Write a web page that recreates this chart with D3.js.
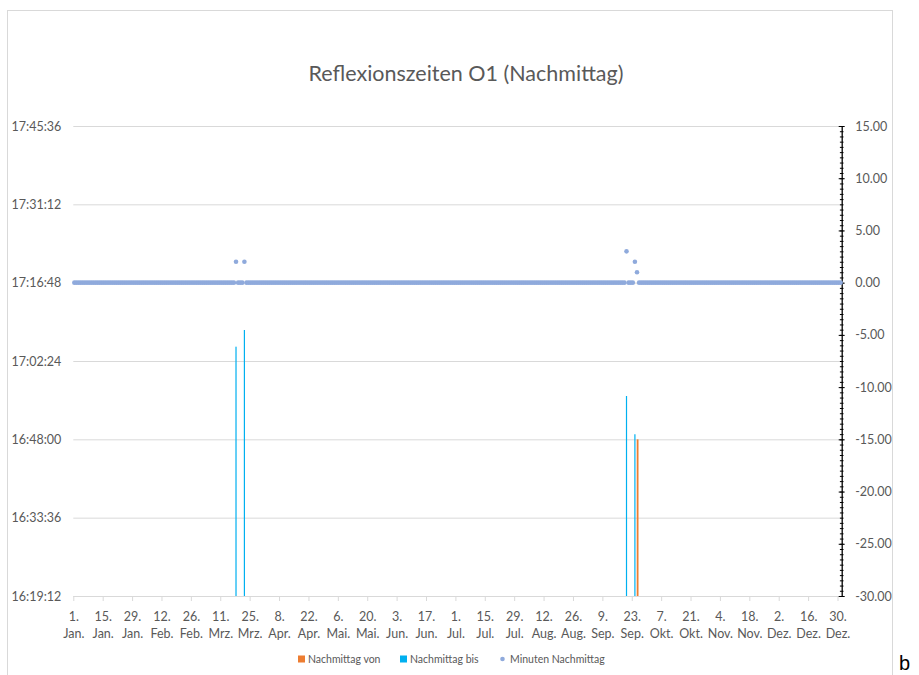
<!DOCTYPE html>
<html>
<head>
<meta charset="utf-8">
<script src="https://cdn.jsdelivr.net/npm/d3@7"></script>
<style>
  html, body { margin: 0; padding: 0; background: #fff; }
  svg { display: block; font-family: "Lato", "Open Sans", sans-serif; }
</style>
</head>
<body>
<svg id="chart" width="919" height="675"></svg>
<script>
// ---------- DATA ----------
const chartTitle = "Reflexionszeiten O1 (Nachmittag)";
const seriesNames = ["Nachmittag von", "Nachmittag bis", "Minuten Nachmittag"];
const seriesColors = ["#ED7D31", "#00B0F0", "#8FAADC"];

// x axis: one category per day of 2020
const yearStart = "2020-01-01";
const yearEnd = "2021-01-01";
const tickDates = ["2020-01-01","2020-01-15","2020-01-29","2020-02-12","2020-02-26","2020-03-11","2020-03-25",
  "2020-04-08","2020-04-22","2020-05-06","2020-05-20","2020-06-03","2020-06-17","2020-07-01","2020-07-15",
  "2020-07-29","2020-08-12","2020-08-26","2020-09-09","2020-09-23","2020-10-07","2020-10-21","2020-11-04",
  "2020-11-18","2020-12-02","2020-12-16","2020-12-30"];
const tickDayLabels = ["1.","15.","29.","12.","26.","11.","25.","8.","22.","6.","20.","3.","17.","1.","15.",
  "29.","12.","26.","9.","23.","7.","21.","4.","18.","2.","16.","30."];
const tickMonthLabels = ["Jan.","Jan.","Jan.","Feb.","Feb.","Mrz.","Mrz.","Apr.","Apr.","Mai.","Mai.","Jun.","Jun.","Jul.","Jul.",
  "Jul.","Aug.","Aug.","Sep.","Sep.","Okt.","Okt.","Nov.","Nov.","Dez.","Dez.","Dez."];

// left axis (time of day)
const leftTicks = ["16:19:12","16:33:36","16:48:00","17:02:24","17:16:48","17:31:12","17:45:36"];
// right axis (minutes)
const rightTicks = [-30, -25, -20, -15, -10, -5, 0, 5, 10, 15];
const rightMinorStep = 0.5;

// "Nachmittag von" bars
const vonDates = ["2020-09-25"];
const vonTimes = ["16:48:00"];
// "Nachmittag bis" bars
const bisDates = ["2020-03-18", "2020-03-22", "2020-09-20", "2020-09-24"];
const bisTimes = ["17:05:02", "17:08:06", "16:55:58", "16:48:56"];
// "Minuten Nachmittag": every day is 0 except these days
const minuteDates = ["2020-03-18", "2020-03-22", "2020-09-20", "2020-09-24", "2020-09-25"];
const minuteValues = [2, 2, 3, 2, 1];
const minuteDefault = 0;

// ---------- HELPERS ----------
const parseDate = d3.timeParse("%Y-%m-%d");
const toSec = s => { const [h, m, sec] = s.split(":").map(Number); return h * 3600 + m * 60 + sec; };
const fmtSec = v => {
  const h = Math.floor(v / 3600), m = Math.floor((v % 3600) / 60), s = Math.round(v % 60);
  return h + ":" + String(m).padStart(2, "0") + ":" + String(s).padStart(2, "0");
};

// ---------- LAYOUT ----------
const svg = d3.select("#chart");
const plot = { left: 73.3, right: 841.7, top: 126, bottom: 596 };
const textColor = "#595959";
const gridColor = "#d9d9d9";

// chart frame
svg.append("rect").attr("x", 7.5).attr("y", 10.5).attr("width", 885).attr("height", 700)
  .attr("fill", "none").attr("stroke", gridColor).attr("stroke-width", 1);

// scales
const x = d3.scaleTime().domain([parseDate(yearStart), parseDate(yearEnd)]).range([plot.left, plot.right]);
const dayW = x(parseDate("2020-01-02")) - x(parseDate("2020-01-01"));
const xc = d => x(parseDate(d)) + dayW / 2;
const leftSec = leftTicks.map(toSec);
const yL = d3.scaleLinear().domain([leftSec[0], leftSec[leftSec.length - 1]]).range([plot.bottom, plot.top]);
const yR = d3.scaleLinear().domain([rightTicks[0], rightTicks[rightTicks.length - 1]]).range([plot.bottom, plot.top]);

// title
svg.append("text").attr("x", 466).attr("y", 81).attr("text-anchor", "middle")
  .attr("font-size", 21.5).attr("fill", textColor).text(chartTitle);

// left axis with gridlines
const gL = svg.append("g").attr("transform", `translate(${plot.left},0)`)
  .call(d3.axisLeft(yL).tickValues(leftSec).tickFormat(fmtSec)
    .tickSize(-(plot.right - plot.left)).tickPadding(12));
gL.select(".domain").remove();
gL.selectAll(".tick line").attr("stroke", gridColor);
gL.selectAll(".tick text").attr("fill", textColor).attr("font-size", 12.5).attr("font-family", "Lato");

// x axis
const gX = svg.append("g").attr("transform", `translate(0,${plot.bottom})`)
  .call(d3.axisBottom(x).tickValues(tickDates.map(parseDate)).tickSizeInner(5).tickSizeOuter(0).tickFormat(""));
gX.select(".domain").attr("stroke", gridColor);
gX.selectAll(".tick line").attr("stroke", gridColor);
gX.selectAll(".tick").each(function (d, i) {
  const t = d3.select(this).append("text").attr("fill", textColor).attr("font-size", 12.5)
    .attr("font-family", "Lato").attr("text-anchor", "middle");
  t.append("tspan").attr("x", 0).attr("y", 25).text(tickDayLabels[i]);
  t.append("tspan").attr("x", 0).attr("y", 42).text(tickMonthLabels[i]);
});

// bars: von (orange) then bis (blue)
svg.append("g").selectAll("rect").data(vonDates.map((d, i) => ({ d, v: toSec(vonTimes[i]) })))
  .join("rect")
  .attr("x", p => xc(p.d) - 0.3).attr("width", 1.8)
  .attr("y", p => yL(p.v)).attr("height", p => plot.bottom - yL(p.v))
  .attr("fill", seriesColors[0]);
svg.append("g").selectAll("rect").data(bisDates.map((d, i) => ({ d, v: toSec(bisTimes[i]) })))
  .join("rect")
  .attr("x", p => xc(p.d) - 0.6).attr("width", 1.2)
  .attr("y", p => yL(p.v)).attr("height", p => plot.bottom - yL(p.v))
  .attr("fill", seriesColors[1]);

// right axis
const gRMinor = svg.append("g").attr("transform", `translate(${plot.right},0)`)
  .call(d3.axisRight(yR).tickValues(d3.range(rightTicks[0], rightTicks[rightTicks.length - 1] + 0.001, rightMinorStep))
    .tickSize(1.8).tickFormat(""));
gRMinor.select(".domain").remove();
gRMinor.selectAll(".tick line").attr("x1", -1.8).attr("stroke", "#000");
const gR = svg.append("g").attr("transform", `translate(${plot.right},0)`)
  .call(d3.axisRight(yR).tickValues(rightTicks).tickSizeInner(3).tickSizeOuter(0)
    .tickPadding(10.5).tickFormat(v => v.toFixed(2)));
gR.select(".domain").attr("stroke", "#000").attr("stroke-width", 1.3);
gR.selectAll(".tick line").attr("x1", -3).attr("stroke", "#000");
gR.selectAll(".tick text").attr("fill", textColor).attr("font-size", 12.5).attr("font-family", "Lato");

// minutes dots for every day
const minuteMap = new Map(minuteDates.map((d, i) => [d, minuteValues[i]]));
const fmtISO = d3.timeFormat("%Y-%m-%d");
const allDays = d3.timeDay.range(parseDate(yearStart), parseDate("2020-12-31"), 1).concat([parseDate("2020-12-31")]);
const dots = allDays.map(day => { const k = fmtISO(day); return { d: k, v: minuteMap.has(k) ? minuteMap.get(k) : minuteDefault }; });
svg.append("g").selectAll("circle").data(dots).join("circle")
  .attr("cx", p => xc(p.d)).attr("cy", p => yR(p.v)).attr("r", 2.3)
  .attr("fill", seriesColors[2]);

// legend
const lg = svg.append("g").attr("font-size", 10.5).attr("fill", textColor);
lg.append("rect").attr("x", 298).attr("y", 655.5).attr("width", 7).attr("height", 7).attr("fill", seriesColors[0]);
lg.append("text").attr("x", 308).attr("y", 663).attr("fill", textColor).text(seriesNames[0]);
lg.append("rect").attr("x", 400).attr("y", 655.5).attr("width", 7).attr("height", 7).attr("fill", seriesColors[1]);
lg.append("text").attr("x", 410).attr("y", 663).attr("fill", textColor).text(seriesNames[1]);
lg.append("circle").attr("cx", 502.5).attr("cy", 659).attr("r", 2.3).attr("fill", seriesColors[2]);
lg.append("text").attr("x", 510).attr("y", 663).attr("fill", textColor).text(seriesNames[2]);

// stray letter outside the chart frame
svg.append("text").attr("x", 899).attr("y", 670).attr("font-size", 20)
  .attr("font-family", "Liberation Sans, sans-serif").attr("fill", "#000").text("b");
</script>
</body>
</html>
